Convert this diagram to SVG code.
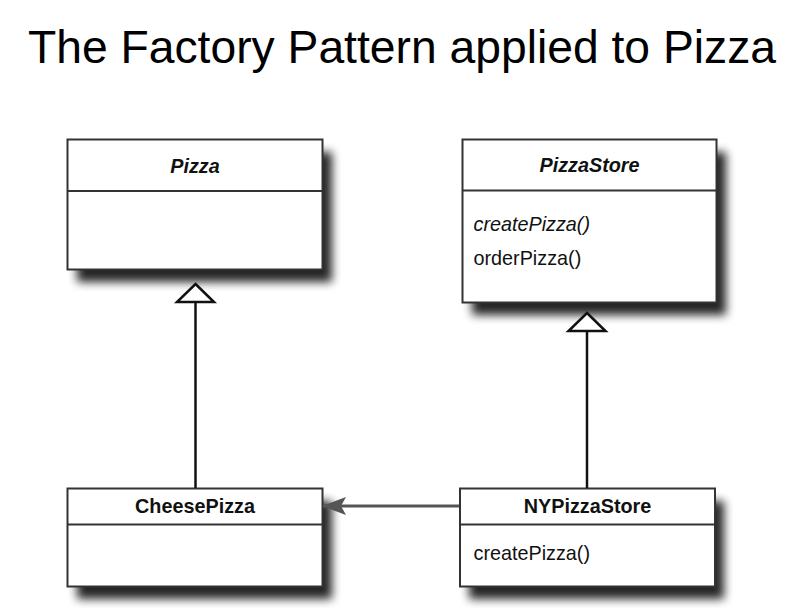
<svg xmlns="http://www.w3.org/2000/svg" width="790" height="613" viewBox="0 0 790 613">
<defs>
<filter id="sh" x="-20%" y="-30%" width="150%" height="170%">
<feGaussianBlur stdDeviation="5"/>
</filter>
<marker id="arr" viewBox="0 0 24 18" refX="23" refY="9" markerWidth="24" markerHeight="18" markerUnits="userSpaceOnUse" orient="auto">
<path d="M0,0 L24,9 L0,18 L5,9 Z" fill="#555"/>
</marker>
</defs>
<style>
.box{fill:#fff;stroke:#333;stroke-width:2}
.shadow{fill:#000;opacity:0.85;filter:url(#sh)}
.div{stroke:#333;stroke-width:2}
.t{font-family:"Liberation Sans",Arial,sans-serif;font-size:19.8px;fill:#111}
.hd{font-weight:bold;text-anchor:middle}
.it{font-style:italic}
.title{font-family:"Liberation Sans",Arial,sans-serif;font-size:45.5px;fill:#000}
.line{stroke:#111;stroke-width:2.5;fill:none}
.tri{fill:#fff;stroke:#111;stroke-width:2.5;stroke-linejoin:miter}
</style>
<rect width="790" height="613" fill="#fff"/>
<text class="title" x="28" y="63" textLength="748" lengthAdjust="spacingAndGlyphs">The Factory Pattern applied to Pizza</text>

<g id="Pizza">
<rect class="shadow" x="77" y="152" width="255" height="130"/>
<rect class="box" x="67.5" y="139.5" width="255" height="130"/>
<line class="div" x1="67.5" y1="191" x2="322.5" y2="191"/>
<text class="t hd it" x="195" y="173">Pizza</text>
</g>

<g id="PizzaStore">
<rect class="shadow" x="472" y="152" width="254" height="163"/>
<rect class="box" x="462.5" y="139.5" width="254" height="163"/>
<line class="div" x1="462.5" y1="190.5" x2="716.5" y2="190.5"/>
<text class="t hd it" x="589.5" y="172">PizzaStore</text>
<text class="t it" x="473.5" y="230.5">createPizza()</text>
<text class="t" x="473.5" y="265">orderPizza()</text>
</g>

<g id="CheesePizza">
<rect class="shadow" x="77" y="501" width="255" height="98"/>
<rect class="box" x="67.5" y="488.5" width="255" height="98"/>
<line class="div" x1="67.5" y1="524.5" x2="322.5" y2="524.5"/>
<text class="t hd" x="195" y="513">CheesePizza</text>
</g>

<g id="NYPizzaStore">
<rect class="shadow" x="469" y="501" width="255" height="98"/>
<rect class="box" x="460" y="488.5" width="255" height="98"/>
<line class="div" x1="460" y1="524.5" x2="715" y2="524.5"/>
<text class="t hd" x="587.5" y="513">NYPizzaStore</text>
<text class="t" x="473.5" y="560">createPizza()</text>
</g>

<g id="connectors">
<line class="line" x1="195.5" y1="302" x2="195.5" y2="488"/>
<polygon class="tri" points="195.5,284 214,302 177,302"/>
<line class="line" x1="587" y1="331" x2="587" y2="488"/>
<polygon class="tri" points="587,313 605.5,331 568.5,331"/>
<line x1="459" y1="506" x2="323" y2="506" stroke="#555" stroke-width="2.8" marker-end="url(#arr)"/>
</g>
</svg>
